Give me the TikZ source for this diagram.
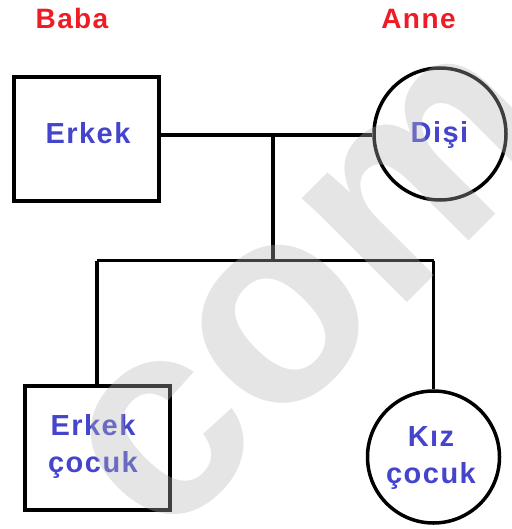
\documentclass[tikz,border=0pt]{standalone}
\usepackage{fontspec}
\setmainfont{Liberation Sans}
\newfontfamily\labfont{Liberation Sans}[LetterSpace=5]
\newfontfamily\wmfont{Liberation Sans}
\definecolor{tblue}{HTML}{4444CC}
\definecolor{tred}{HTML}{EE1C25}
\definecolor{wmgray}{rgb}{0.71,0.71,0.71}
\begin{document}
\begin{tikzpicture}[x=1pt,y=-1pt,
  lab/.style={font=\labfont\bfseries\fontsize{29}{37}\selectfont, text=tblue, align=center, inner sep=0pt, anchor=base},
  par/.style={font=\labfont\bfseries\fontsize{28}{30}\selectfont, text=tred, inner sep=0pt, anchor=base},
  male/.style={draw, line width=4pt, rectangle, minimum width=145pt, minimum height=124pt, inner sep=0pt},
  female/.style={draw, line width=3.5pt, circle, minimum size=132pt, inner sep=0pt},
  link/.style={line width=3.5pt}
]
\useasboundingbox (0,0) rectangle (511,529);
% shapes
\node[male] (father) at (86.5,139) {};
\node[female] (mother) at (440,134) {};
\node[male] (son) at (97,448) {};
\node[female] (daughter) at (433.5,457) {};
% junctions
\coordinate (m) at (273,135);
\coordinate (h) at (273,260.5);
% connectors
\draw[link] (m -| father.east) -- (m -| mother.west);
\draw[link] (m) -- (h);
\draw[link] (h -| son.north) -- (h -| daughter.north);
\draw[link] (h -| son.north) -- (son.north);
\draw[link] (h -| daughter.north) -- (daughter.north);
% labels
\node[par] (baba) at (72,29) {Baba};
\node[par] (anne) at (418.5,29) {Anne};
\node[lab] (erkek) at (88,144) {Erkek};
\node[lab] (disi) at (439.5,143) {Dişi};
\node[lab] (sonlab) at (93,472) {Erkek\\çocuk};
\node[lab] (kizlab) at (431,483) {Kız\\çocuk};
% watermark
\node[font=\wmfont\bfseries\fontsize{280}{280}\selectfont, text=wmgray, text opacity=0.35, rotate=45, inner sep=0pt] (wm) at (314,292) {com};
\end{tikzpicture}
\end{document}
